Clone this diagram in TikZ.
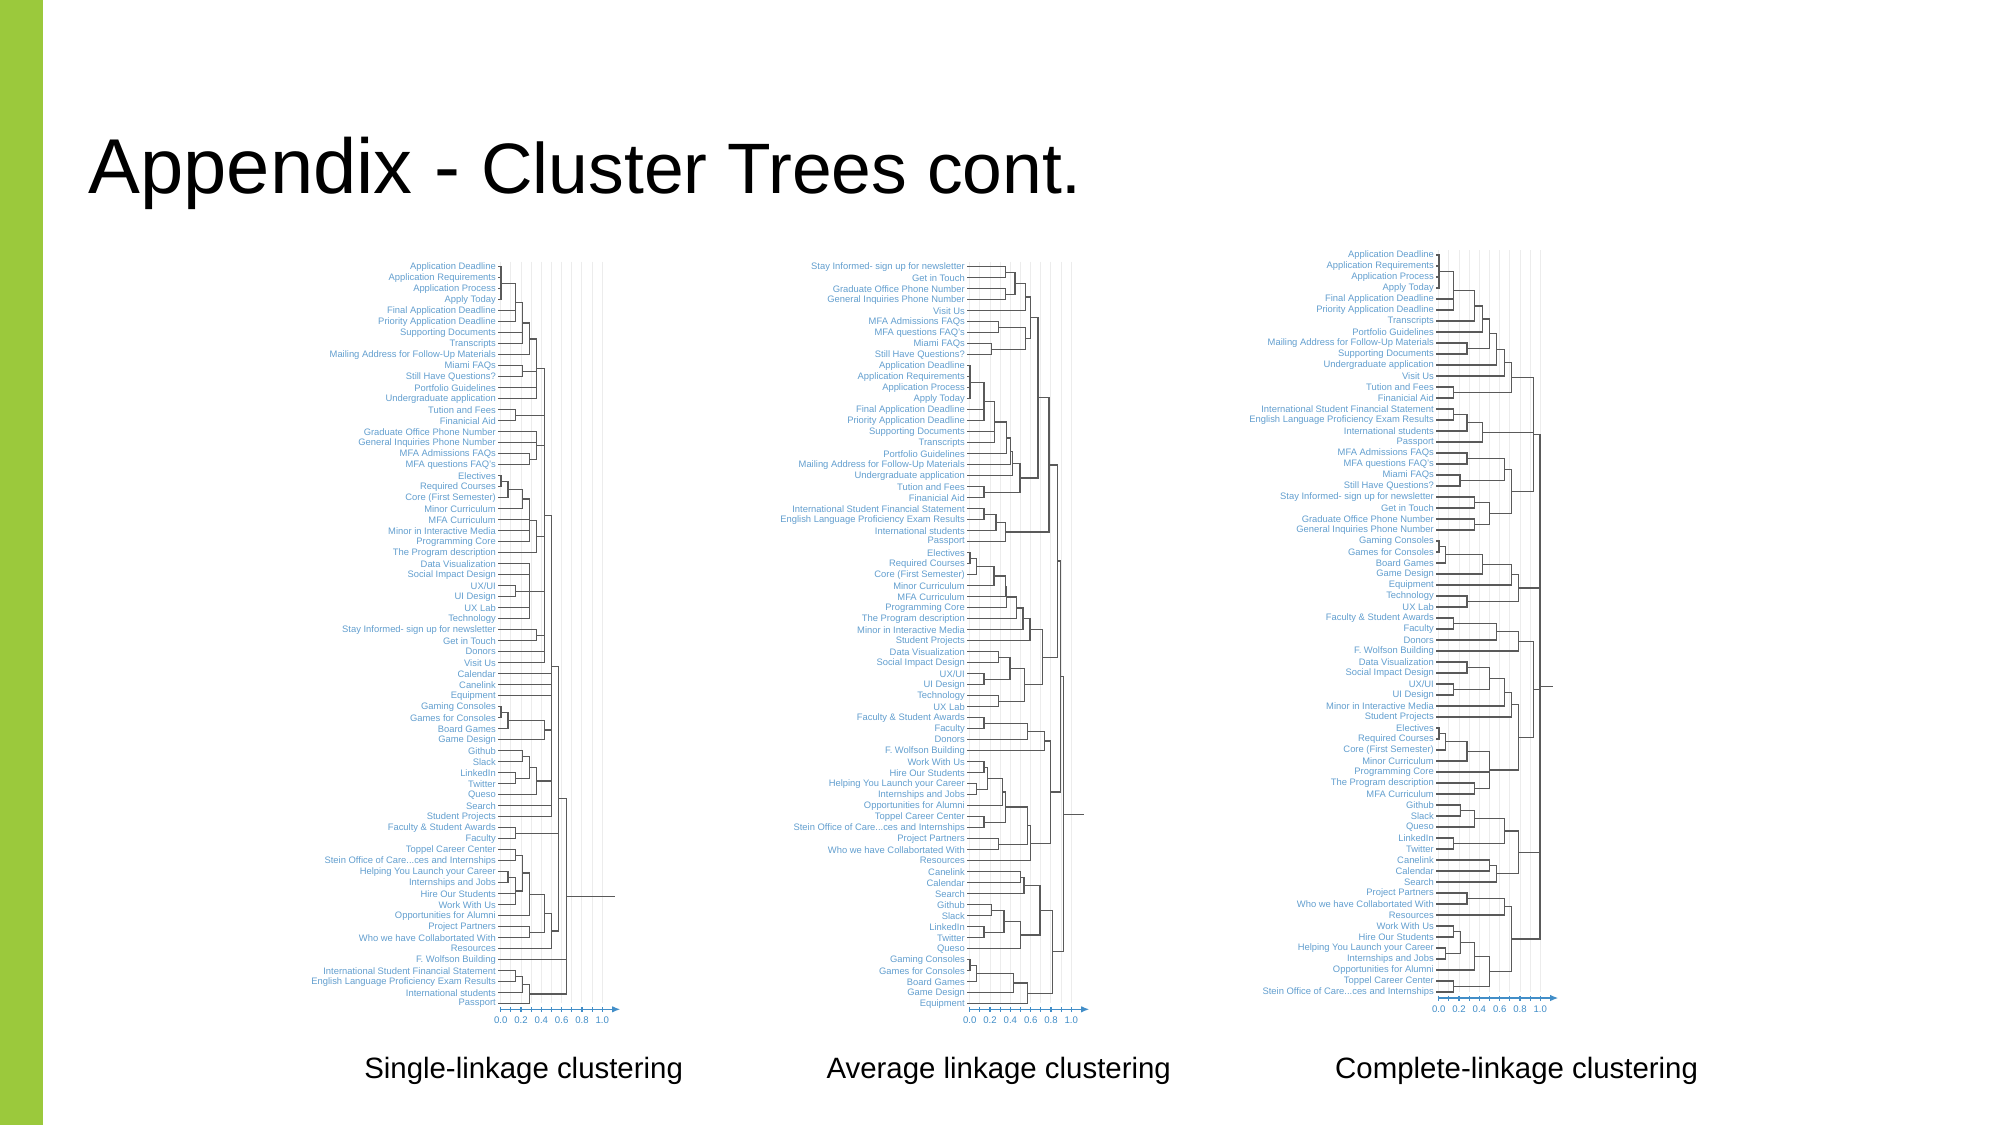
\documentclass[tikz,border=0pt]{standalone}
\usepackage{fontspec}
\setmainfont{Liberation Sans}
\usepackage{tikz}
\usetikzlibrary{arrows.meta, positioning, calc}
\definecolor{slidegreen}{RGB}{155,201,60}
\definecolor{leafblue}{RGB}{98,158,206}
\definecolor{axisblue}{RGB}{66,142,200}
\definecolor{treegray}{RGB}{90,90,90}
\definecolor{gridgray}{RGB}{236,236,236}
\newcommand{\dts}{...}
% merge: new name, height (zoom x), children top to bottom
\newcommand{\mrg}[3]{%
  \coordinate (hh) at (\ox+#2/3,0);
  \foreach \ch [count=\k] in {#3}{%
    \draw[lnk] (\ch) -- (\ch -| hh);
    \ifnum\k=1 \coordinate (mtop) at (\ch -| hh);\fi
    \coordinate (mbot) at (\ch -| hh);
  }
  \draw[lnk] (mtop) -- (mbot);
  \coordinate (#1) at ($(mtop)!0.5!(mbot)$);
}

\begin{document}
\begin{tikzpicture}[x=0.5pt, y=-0.5pt,
    leaflab/.style={anchor=east, inner sep=0pt, text=leafblue,
        font=\fontsize{4.7}{5}\selectfont},
    lnk/.style={draw=treegray, line width=0.65pt, line cap=rect},
    gridln/.style={draw=gridgray, line width=0.5pt},
    axln/.style={draw=axisblue, line width=0.6pt},
    ticklab/.style={inner sep=0pt, text=axisblue, font=\fontsize{4.8}{5}\selectfont},
    caption/.style={anchor=base, inner sep=0pt, font=\fontsize{14.7}{16}\selectfont}
]
\useasboundingbox (0,0) rectangle (2000,1125);
\fill[slidegreen] (0,0) rectangle (43,1125);
\node[anchor=base west, inner sep=0pt, font=\fontsize{38.9}{40}\selectfont] (title) at (88,193) {Appendix -};
\node[anchor=base west, inner sep=0pt, font=\fontsize{35.7}{36}\selectfont] (subtitle) at (481,193) {Cluster Trees cont.};

%% single linkage
\def\ox{319}\def\zx{500.7}\def\ly{266.7}\def\ay{1009.3}
\foreach \j in {0,...,10} \draw[gridln] (\zx+\j*10.16,\ly-5) -- (\zx+\j*10.16,\ay-6);
\foreach \t [count=\i] in {Application Deadline, Application Requirements, Application Process, Apply Today,
    Final Application Deadline, Priority Application Deadline, Supporting Documents, Transcripts,
    Mailing Address for Follow-Up Materials, Miami FAQs, Still Have Questions?, Portfolio Guidelines,
    Undergraduate application, Tution and Fees, Finanicial Aid, Graduate Office Phone Number,
    General Inquiries Phone Number, MFA Admissions FAQs, MFA questions FAQ's, Electives,
    Required Courses, Core (First Semester), Minor Curriculum, MFA Curriculum,
    Minor in Interactive Media, Programming Core, The Program description, Data Visualization,
    Social Impact Design, UX/UI, UI Design, UX Lab, Technology, Stay Informed- sign up for newsletter,
    Get in Touch, Donors, Visit Us, Calendar, Canelink, Equipment, Gaming Consoles, Games for Consoles,
    Board Games, Game Design, Github, Slack, LinkedIn, Twitter, Queso, Search, Student Projects,
    Faculty \& Student Awards, Faculty, Toppel Career Center, Stein Office of Care\dts{}ces and Internships,
    Helping You Launch your Career, Internships and Jobs, Hire Our Students, Work With Us,
    Opportunities for Alumni, Project Partners, Who we have Collabortated With, Resources,
    F. Wolfson Building, International Student Financial Statement,
    English Language Proficiency Exam Results, International students, Passport}{
  \node[leaflab] (na\i) at (\zx-4.5,\ly+11*\i-11) {\t};
  \coordinate (a\i) at (\zx-2,\ly+11*\i-11);
}
\mrg{aA}{546}{a1,a2,a3,a4}
\mrg{aB}{590}{aA,a5,a6}
\mrg{aC}{610}{aB,a7,a8}
\mrg{aD}{632}{aC,a9}
\mrg{aE}{610}{a10,a11}
\mrg{aF}{653}{aD,aE,a12,a13}
\mrg{aG}{590}{a14,a15}
\mrg{aH}{632}{a18,a19}
\mrg{aI}{653}{a16,a17,aH}
\mrg{aJ}{546}{a20,a21}
\mrg{aK}{567}{aJ,a22}
\mrg{aL}{610}{aK,a23}
\mrg{aM}{632}{aL,a24,a25,a26}
\mrg{aN}{653}{aM,a27}
\mrg{aO}{590}{a30,a31}
\mrg{aP}{632}{a28,a29,aO,a32,a33}
\mrg{aQ}{653}{a34,a35}
\mrg{aR}{676}{aF,aG,aI,aN,aP,aQ,a36,a37}
\mrg{aS}{546}{a41,a42}
\mrg{aT}{567}{aS,a43}
\mrg{aU}{676}{aT,a44}
\mrg{aV}{610}{a45,a46}
\mrg{aW}{590}{a47,a48}
\mrg{aX}{632}{aV,aW}
\mrg{aY}{653}{aX,a49}
\mrg{aZ}{697}{aR,a38,a39,a40,aU,aY,a50,a51}
\mrg{aAA}{590}{a52,a53}
\mrg{aAB}{590}{a54,a55}
\mrg{aAC}{567}{a56,a57}
\mrg{aAD}{590}{aAC,a58,a59}
\mrg{aAE}{610}{aAB,aAD}
\mrg{aAF}{632}{aAE,a60}
\mrg{aAG}{632}{a61,a62}
\mrg{aAH}{676}{aAF,aAG}
\mrg{aAI}{697}{aAH,a63}
\mrg{aAJ}{718}{aZ,aAA,aAI}
\mrg{aAK}{590}{a65,a66}
\mrg{aAL}{610}{aAK,a67}
\mrg{aAM}{632}{aAL,a68}
\mrg{aRoot}{742}{aAJ,a64,aAM}
\coordinate (aEnd) at (\ox+885/3,0);
\draw[lnk] (aRoot) -- (aRoot -| aEnd);
\draw[axln, -{Latex[length=4pt,width=3.2pt]}] (\zx-1,\ay) -- (\zx+119.5,\ay);
\foreach \j in {0,...,10} \draw[axln] (\zx+\j*10.16,\ay-2.5) -- (\zx+\j*10.16,\ay+2.5);
\foreach \j/\lab in {0/0.0,2/0.2,4/0.4,6/0.6,8/0.8,10/1.0}
  \node[ticklab] (ta\j) at (\zx+\j*10.16,\ay+11) {\lab};
\node[caption] (capa) at (523.6,1078) {Single-linkage clustering};

%% average linkage
\def\ox{784}\def\zx{969.7}\def\ly{266.7}\def\ay{1009.3}
\foreach \j in {0,...,10} \draw[gridln] (\zx+\j*10.16,\ly-5) -- (\zx+\j*10.16,\ay-6);
\foreach \t [count=\i] in {Stay Informed- sign up for newsletter, Get in Touch, Graduate Office Phone Number,
    General Inquiries Phone Number, Visit Us, MFA Admissions FAQs, MFA questions FAQ's, Miami FAQs,
    Still Have Questions?, Application Deadline, Application Requirements, Application Process,
    Apply Today, Final Application Deadline, Priority Application Deadline, Supporting Documents,
    Transcripts, Portfolio Guidelines, Mailing Address for Follow-Up Materials, Undergraduate application,
    Tution and Fees, Finanicial Aid, International Student Financial Statement,
    English Language Proficiency Exam Results, International students, Passport, Electives,
    Required Courses, Core (First Semester), Minor Curriculum, MFA Curriculum, Programming Core,
    The Program description, Minor in Interactive Media, Student Projects, Data Visualization,
    Social Impact Design, UX/UI, UI Design, Technology, UX Lab, Faculty \& Student Awards, Faculty,
    Donors, F. Wolfson Building, Work With Us, Hire Our Students, Helping You Launch your Career,
    Internships and Jobs, Opportunities for Alumni, Toppel Career Center,
    Stein Office of Care\dts{}ces and Internships, Project Partners, Who we have Collabortated With,
    Resources, Canelink, Calendar, Search, Github, Slack, LinkedIn, Twitter, Queso, Gaming Consoles,
    Games for Consoles, Board Games, Game Design, Equipment}{
  \node[leaflab] (nb\i) at (\zx-4.5,\ly+11*\i-11) {\t};
  \coordinate (b\i) at (\zx-2,\ly+11*\i-11);
}
\mrg{bA}{665}{b1,b2}
\mrg{bB}{665}{b3,b4}
\mrg{bC}{693}{bA,bB}
\mrg{bD}{725}{bC,b5}
\mrg{bE}{643}{b6,b7}
\mrg{bF}{623}{b8,b9}
\mrg{bG}{725}{bE,bF}
\mrg{bH}{740}{bD,bG}
\mrg{bI}{558}{b10,b11,b12,b13}
\mrg{bJ}{600}{bI,b14,b15}
\mrg{bK}{632}{bJ,b16,b17}
\mrg{bL}{668}{bK,b18}
\mrg{bM}{680}{bL,b19}
\mrg{bN}{686}{bM,b20}
\mrg{bO}{600}{b21,b22}
\mrg{bP}{708}{bN,bO}
\mrg{bQ}{762}{bH,bP}
\mrg{bR}{600}{b23,b24}
\mrg{bS}{636}{bR,b25}
\mrg{bT}{665}{bS,b26}
\mrg{bU}{795}{bQ,bT}
\mrg{bV}{558}{b27,b28}
\mrg{bW}{578}{bV,b29}
\mrg{bX}{630}{bW,b30}
\mrg{bY}{665}{bX,b31}
\mrg{bZ}{668}{bY,b32}
\mrg{bAA}{697}{bZ,b33}
\mrg{bAB}{717}{bAA,b34}
\mrg{bAC}{738}{bAB,b35}
\mrg{bAD}{643}{b36,b37}
\mrg{bAE}{600}{b38,b39}
\mrg{bAF}{678}{bAD,bAE}
\mrg{bAG}{643}{b40,b41}
\mrg{bAH}{721}{bAF,bAG}
\mrg{bAI}{776}{bAC,bAH}
\mrg{bAJ}{820}{bU,bAI}
\mrg{bAK}{600}{b42,b43}
\mrg{bAL}{730}{bAK,b44}
\mrg{bAM}{782}{bAL,b45}
\mrg{bAN}{600}{b46,b47}
\mrg{bAO}{578}{b48,b49}
\mrg{bAP}{610}{bAN,bAO}
\mrg{bAQ}{655}{bAP,b50}
\mrg{bAR}{600}{b51,b52}
\mrg{bAS}{665}{bAQ,bAR}
\mrg{bAT}{643}{b53,b54}
\mrg{bAU}{730}{bAS,bAT}
\mrg{bAV}{740}{bAU,b55}
\mrg{bAW}{800}{bAM,bAV}
\mrg{bAX}{830}{bAJ,bAW}
\mrg{bAY}{710}{b56,b57}
\mrg{bAZ}{720}{bAY,b58}
\mrg{bBA}{623}{b59,b60}
\mrg{bBB}{600}{b61,b62}
\mrg{bBC}{660}{bBA,bBB}
\mrg{bBD}{710}{bBC,b63}
\mrg{bBE}{768}{bAZ,bBD}
\mrg{bBF}{558}{b64,b65}
\mrg{bBG}{578}{bBF,b66}
\mrg{bBH}{688}{bBG,b67}
\mrg{bBI}{730}{bBH,b68}
\mrg{bBJ}{806}{bBE,bBI}
\mrg{bRoot}{838}{bAX,bBJ}
\coordinate (bEnd) at (\ox+897/3,0);
\draw[lnk] (bRoot) -- (bRoot -| bEnd);
\draw[axln, -{Latex[length=4pt,width=3.2pt]}] (\zx-1,\ay) -- (\zx+119.5,\ay);
\foreach \j in {0,...,10} \draw[axln] (\zx+\j*10.16,\ay-2.5) -- (\zx+\j*10.16,\ay+2.5);
\foreach \j/\lab in {0/0.0,2/0.2,4/0.4,6/0.6,8/0.8,10/1.0}
  \node[ticklab] (tb\j) at (\zx+\j*10.16,\ay+11) {\lab};
\node[caption] (capb) at (998.7,1078) {Average linkage clustering};

%% complete linkage
\def\ox{1256}\def\zx{1438.7}\def\ly{255}\def\ay{998}
\foreach \j in {0,...,10} \draw[gridln] (\zx+\j*10.16,\ly-5) -- (\zx+\j*10.16,\ay-6);
\foreach \t [count=\i] in {Application Deadline, Application Requirements, Application Process, Apply Today,
    Final Application Deadline, Priority Application Deadline, Transcripts, Portfolio Guidelines,
    Mailing Address for Follow-Up Materials, Supporting Documents, Undergraduate application, Visit Us,
    Tution and Fees, Finanicial Aid, International Student Financial Statement,
    English Language Proficiency Exam Results, International students, Passport, MFA Admissions FAQs,
    MFA questions FAQ's, Miami FAQs, Still Have Questions?, Stay Informed- sign up for newsletter,
    Get in Touch, Graduate Office Phone Number, General Inquiries Phone Number, Gaming Consoles,
    Games for Consoles, Board Games, Game Design, Equipment, Technology, UX Lab,
    Faculty \& Student Awards, Faculty, Donors, F. Wolfson Building, Data Visualization,
    Social Impact Design, UX/UI, UI Design, Minor in Interactive Media, Student Projects, Electives,
    Required Courses, Core (First Semester), Minor Curriculum, Programming Core,
    The Program description, MFA Curriculum, Github, Slack, Queso, LinkedIn, Twitter, Canelink,
    Calendar, Search, Project Partners, Who we have Collabortated With, Resources, Work With Us,
    Hire Our Students, Helping You Launch your Career, Internships and Jobs, Opportunities for Alumni,
    Toppel Career Center, Stein Office of Care\dts{}ces and Internships}{
  \node[leaflab] (nc\i) at (\zx-4.5,\ly+11*\i-11) {\t};
  \coordinate (c\i) at (\zx-2,\ly+11*\i-11);
}
\mrg{cA}{549}{c1,c2,c3,c4}
\mrg{cB}{592}{cA,c5,c6}
\mrg{cC}{655}{cB,c7}
\mrg{cD}{680}{cC,c8}
\mrg{cE}{633}{c9,c10}
\mrg{cF}{700}{cD,cE}
\mrg{cG}{722}{cF,c11}
\mrg{cH}{745}{cG,c12}
\mrg{cI}{592}{c13,c14}
\mrg{cJ}{767}{cH,cI}
\mrg{cK}{592}{c15,c16}
\mrg{cL}{633}{cK,c17}
\mrg{cM}{680}{cL,c18}
\mrg{cN}{633}{c19,c20}
\mrg{cO}{612}{c21,c22}
\mrg{cP}{745}{cN,cO}
\mrg{cQ}{655}{c23,c24}
\mrg{cR}{655}{c25,c26}
\mrg{cS}{700}{cQ,cR}
\mrg{cT}{767}{cP,cS}
\mrg{cU}{832}{cJ,cM,cT}
\mrg{cV}{549}{c27,c28}
\mrg{cW}{568}{cV,c29}
\mrg{cX}{680}{cW,c30}
\mrg{cY}{767}{cX,c31}
\mrg{cZ}{633}{c32,c33}
\mrg{cAA}{788}{cY,cZ}
\mrg{cAB}{592}{c34,c35}
\mrg{cAC}{722}{cAB,c36}
\mrg{cAD}{788}{cAC,c37}
\mrg{cAE}{633}{c38,c39}
\mrg{cAF}{592}{c40,c41}
\mrg{cAG}{700}{cAE,cAF}
\mrg{cAH}{745}{cAG,c42}
\mrg{cAI}{767}{cAH,c43}
\mrg{cAJ}{549}{c44,c45}
\mrg{cAK}{568}{cAJ,c46}
\mrg{cAL}{633}{cAK,c47}
\mrg{cAM}{655}{c49,c50}
\mrg{cAN}{700}{cAL,c48,cAM}
\mrg{cAO}{788}{cAI,cAN}
\mrg{cAP}{832}{cAD,cAO}
\mrg{cAQ}{613}{c51,c52}
\mrg{cAR}{655}{cAQ,c53}
\mrg{cAS}{592}{c54,c55}
\mrg{cAT}{745}{cAR,cAS}
\mrg{cAU}{700}{c56,c57}
\mrg{cAV}{722}{cAU,c58}
\mrg{cAW}{788}{cAT,cAV}
\mrg{cAX}{633}{c59,c60}
\mrg{cAY}{745}{cAX,c61}
\mrg{cAZ}{592}{c62,c63}
\mrg{cBA}{568}{c64,c65}
\mrg{cBB}{613}{cAZ,cBA}
\mrg{cBC}{655}{cBB,c66}
\mrg{cBD}{592}{c67,c68}
\mrg{cBE}{700}{cBC,cBD}
\mrg{cBF}{767}{cAY,cBE}
\mrg{cRoot}{852}{cU,cAA,cAP,cAW,cBF}
\coordinate (cEnd) at (\ox+888/3,0);
\draw[lnk] (cRoot) -- (cRoot -| cEnd);
\draw[axln, -{Latex[length=4pt,width=3.2pt]}] (\zx-1,\ay) -- (\zx+119.5,\ay);
\foreach \j in {0,...,10} \draw[axln] (\zx+\j*10.16,\ay-2.5) -- (\zx+\j*10.16,\ay+2.5);
\foreach \j/\lab in {0/0.0,2/0.2,4/0.4,6/0.6,8/0.8,10/1.0}
  \node[ticklab] (tc\j) at (\zx+\j*10.16,\ay+11) {\lab};
\node[caption] (capc) at (1516.6,1078) {Complete-linkage clustering};
\end{tikzpicture}
\end{document}
